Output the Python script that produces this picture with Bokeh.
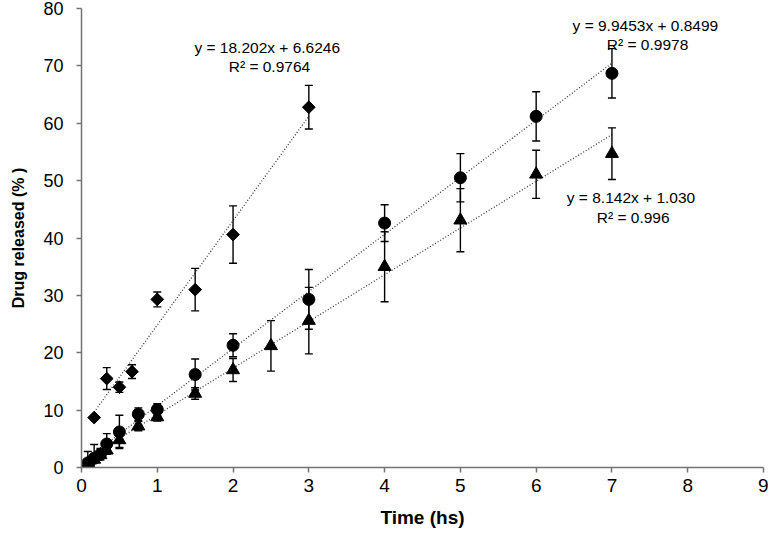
import math
from bokeh.plotting import figure
from bokeh.models import Range1d, FixedTicker, Label
from bokeh.embed import file_html
from bokeh.resources import INLINE

# ---- data ----
t_diamond = [0.167, 0.333, 0.5, 0.667, 1, 1.5, 2, 3]
rel_diamond = [8.7, 15.5, 14.0, 16.7, 29.3, 31.0, 40.6, 62.8]
sd_diamond = [0.3, 1.9, 0.9, 1.2, 1.3, 3.7, 5.0, 3.8]

t_circle = [0.083, 0.167, 0.25, 0.333, 0.5, 0.75, 1, 1.5, 2, 3, 4, 5, 6, 7]
rel_circle = [0.8, 1.6, 2.3, 4.1, 6.2, 9.3, 10.1, 16.2, 21.3, 29.3, 42.6, 50.5, 61.2, 68.7]
sd_circle = [2.0, 2.4, 1.0, 1.8, 2.9, 1.1, 1.0, 2.7, 2.0, 5.2, 3.2, 4.2, 4.3, 4.3]

t_tri = [0.083, 0.167, 0.25, 0.333, 0.5, 0.75, 1, 1.5, 2, 2.5, 3, 4, 5, 6, 7]
rel_tri = [0.7, 1.4, 2.2, 3.0, 4.8, 7.2, 8.8, 12.9, 17.0, 21.2, 25.6, 35.0, 43.1, 51.1, 54.7]
sd_tri = [0.4, 0.5, 0.6, 0.7, 1.3, 0.8, 0.7, 1.0, 2.0, 4.4, 5.8, 6.1, 5.5, 4.2, 4.5]

# trendline coefficients (slope, intercept) and equation texts
fit_diamond = (18.202, 6.6246)
fit_circle = (9.9453, 0.8499)
fit_tri = (8.142, 1.030)
eq_diamond = ["y = 18.202x  + 6.6246", "R\u00b2 = 0.9764"]
eq_circle = ["y = 9.9453x  + 0.8499", "R\u00b2 = 0.9978"]
eq_tri = ["y = 8.142x  + 1.030", "R\u00b2 = 0.996"]
eq_pos_diamond = (2.48, 73.2, 69.9)
eq_pos_circle = (7.47, 77.0, 73.8)
eq_pos_tri = (7.28, 47.0, 43.6)

x_ticks = [0, 1, 2, 3, 4, 5, 6, 7, 8, 9]
y_ticks = [0, 10, 20, 30, 40, 50, 60, 70, 80]

FONT = "Liberation Sans"
AXIS_COLOR = "#737373"

p = figure(width=768, height=535, output_backend="svg", toolbar_location=None,
           x_range=Range1d(0, 9), y_range=Range1d(0, 80),
           min_border_left=81, min_border_right=5, min_border_top=8,
           min_border_bottom=68, background_fill_color="white")
p.outline_line_color = None
p.grid.visible = False

for ax in (p.xaxis[0], p.yaxis[0]):
    ax.axis_line_color = AXIS_COLOR
    ax.axis_line_width = 1.5
    ax.major_tick_line_color = AXIS_COLOR
    ax.major_tick_line_width = 1.5
    ax.major_tick_in = 0
    ax.major_tick_out = 5
    ax.minor_tick_line_color = None
    ax.major_label_text_font = FONT
    ax.major_label_text_color = "black"
    ax.axis_label_text_font = FONT
    ax.axis_label_text_font_style = "bold"
    ax.axis_label_text_color = "black"

p.xaxis.ticker = FixedTicker(ticks=x_ticks)
p.yaxis.ticker = FixedTicker(ticks=y_ticks)
p.xaxis.major_label_text_font_size = "19px"
p.yaxis.major_label_text_font_size = "18px"
p.xaxis.major_label_standoff = 6
p.yaxis.major_label_standoff = 13
p.xaxis.axis_label = "Time (hs)"
p.yaxis.axis_label = "Drug released (% )"
p.xaxis.axis_label_text_font_size = "19px"
p.yaxis.axis_label_text_font_size = "16px"
p.xaxis.axis_label_standoff = 12
p.yaxis.axis_label_standoff = 13


def series(t, y, sd, fit, marker, size, angle=0.0):
    # trendline over the data range
    x0, x1 = min(t), max(t)
    p.line([x0, x1], [fit[0] * x0 + fit[1], fit[0] * x1 + fit[1]],
           line_color="#3a3a3a", line_width=1.3, line_dash="1 2")
    lo = [v - s for v, s in zip(y, sd)]
    hi = [v + s for v, s in zip(y, sd)]
    p.segment(x0=t, y0=lo, x1=t, y1=hi, line_color="black", line_width=1.4)
    p.scatter(t, lo, marker="dash", size=8, line_color="black", line_width=1.4)
    p.scatter(t, hi, marker="dash", size=8, line_color="black", line_width=1.4)
    p.scatter(t, y, marker=marker, size=size, angle=angle,
              fill_color="black", line_color="black")


series(t_tri, rel_tri, sd_tri, fit_tri, "triangle", 13)
series(t_circle, rel_circle, sd_circle, fit_circle, "circle", 12)
series(t_diamond, rel_diamond, sd_diamond, fit_diamond, "square", 9, math.pi / 4)

for eq, pos in ((eq_diamond, eq_pos_diamond), (eq_circle, eq_pos_circle), (eq_tri, eq_pos_tri)):
    for txt, yy in zip(eq, pos[1:]):
        p.add_layout(Label(x=pos[0], y=yy, text=txt, text_align="center",
                           text_baseline="middle", text_font=FONT,
                           text_font_size="15.5px", text_color="black"))

open("out.html", "w").write(file_html(p, INLINE))
